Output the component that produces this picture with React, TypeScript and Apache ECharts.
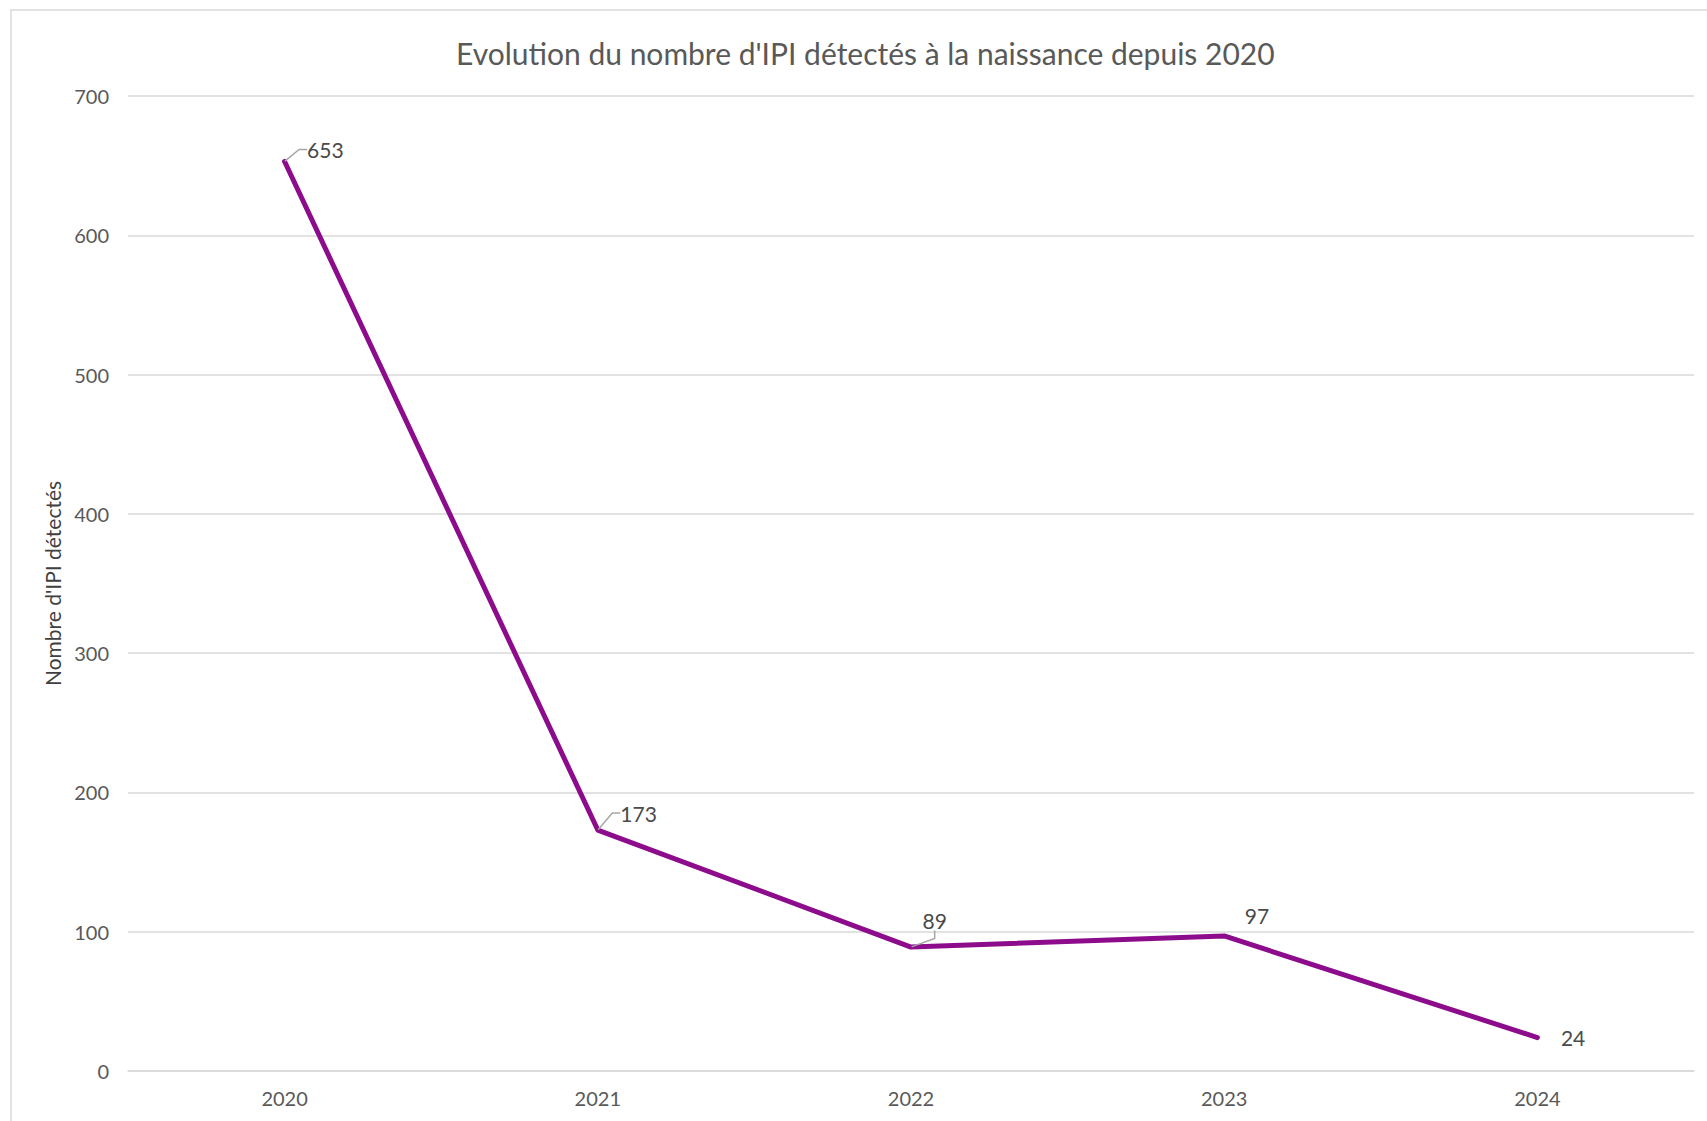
import React, { useEffect, useRef } from "react";
import * as echarts from "echarts";

const categories = ["2020", "2021", "2022", "2023", "2024"];
const values = [653, 173, 89, 97, 24];
const yMin = 0;
const yMax = 700;
const yInterval = 100;
const titleText = "Evolution du nombre d'IPI détectés à la naissance depuis 2020";
const yAxisName = "Nombre d'IPI détectés";

// label offsets (style only)
const labelShift = [
  [14, -12],
  [14, -17],
  [3, -27],
  [12, -20],
  [15, 0],
];
const leaderShown = [true, true, true, false, false];

export default function App() {
  const ref = useRef<HTMLDivElement>(null);
  useEffect(() => {
    if (!ref.current) return;
    const chart = echarts.init(ref.current, null, { renderer: "svg" });
    const font = "Lato, 'Open Sans', sans-serif";
    chart.setOption({
      animation: false,
      backgroundColor: "#ffffff",
      title: {
        text: titleText,
        left: 451,
        top: 33,
        textStyle: { fontFamily: font, fontSize: 30, fontWeight: "normal", color: "#595959" },
      },
      graphic: [
        {
          type: "rect",
          shape: { x: 11, y: 10, width: 1740, height: 1140 },
          style: { fill: "none", stroke: "#d9d9d9", lineWidth: 1.5 },
          silent: true,
        },
      ],
      grid: { left: 128, right: 13, top: 96, bottom: 50 },
      xAxis: {
        type: "category",
        data: categories,
        boundaryGap: true,
        axisLine: { lineStyle: { color: "#d9d9d9", width: 1.5 } },
        axisTick: { show: false },
        axisLabel: { fontFamily: font, fontSize: 20, color: "#595959", margin: 17 },
      },
      yAxis: {
        type: "value",
        min: yMin,
        max: yMax,
        interval: yInterval,
        name: yAxisName,
        nameLocation: "middle",
        nameGap: 64,
        nameTextStyle: { fontFamily: font, fontSize: 21, color: "#404040" },
        axisLine: { show: false },
        axisTick: { show: false },
        splitLine: { lineStyle: { color: "#d9d9d9", width: 1.5 } },
        axisLabel: { fontFamily: font, fontSize: 20, color: "#595959", margin: 19 },
      },
      series: [
        {
          type: "line",
          data: values.map((v, i) => ({
            value: v,
            labelLine: { show: leaderShown[i] },
          })),
          symbol: "circle",
          symbolSize: 1,
          showSymbol: true,
          itemStyle: { color: "#8C0C8C" },
          lineStyle: { color: "#8C0C8C", width: 5, cap: "round", join: "round" },
          label: {
            show: true,
            position: "right",
            distance: 8,
            fontFamily: font,
            fontSize: 21,
            color: "#4a4a4a",
          },
          labelLine: {
            show: true,
            length2: 8,
            lineStyle: { color: "#a6a6a6", width: 1.5 },
          },
          labelLayout: (p: any) => ({
            dx: labelShift[p.dataIndex][0],
            dy: labelShift[p.dataIndex][1],
          }),
        },
      ],
    });
    return () => chart.dispose();
  }, []);
  return (
    <div
      ref={ref}
      style={{ position: "absolute", left: 0, top: 0, width: 1707, height: 1121 }}
    />
  );
}
